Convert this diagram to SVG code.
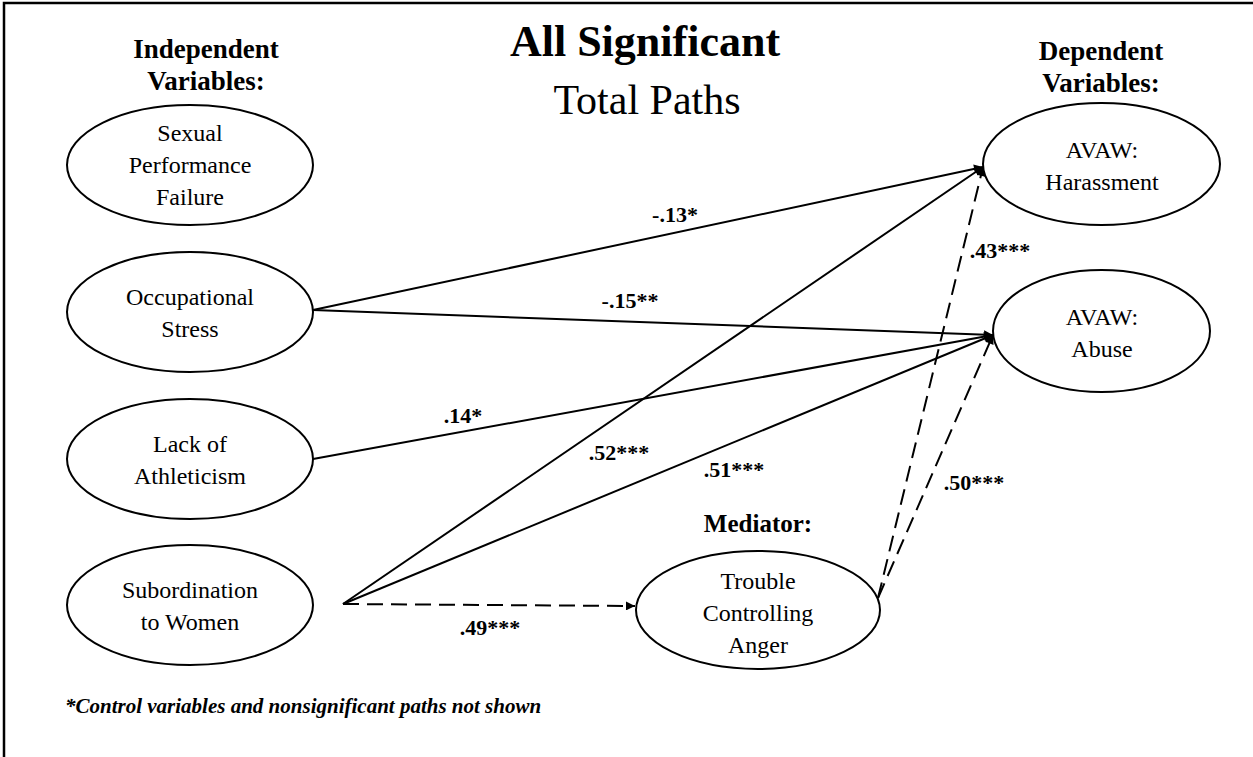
<svg xmlns="http://www.w3.org/2000/svg" width="1253" height="757" viewBox="0 0 1253 757">
<style>
.node ellipse{fill:#fff;stroke:#000;stroke-width:2}
.nt{font-family:"Liberation Serif","Times New Roman",serif;font-size:24px;text-anchor:middle;fill:#000}
.hd{font-family:"Liberation Serif","Times New Roman",serif;font-size:27px;font-weight:bold;text-anchor:middle;fill:#000}
.lb{font-family:"Liberation Serif","Times New Roman",serif;font-size:22px;font-weight:bold;text-anchor:middle;fill:#000}
.c{stroke:#000;stroke-width:2;fill:none;marker-end:url(#ah)}
.d{stroke-dasharray:16 8}
</style>
<defs>
<marker id="ah" viewBox="0 0 10 10" refX="10" refY="5" markerWidth="12" markerHeight="9" markerUnits="userSpaceOnUse" orient="auto">
<path d="M0,0 L10,5 L0,10 z" fill="#000"/>
</marker>
</defs>
<rect width="1253" height="757" fill="#fff"/>
<path d="M4,757 V3 H1253" fill="none" stroke="#000" stroke-width="2.5"/>

<g id="titles">
<text class="hd" x="206" y="58">Independent</text>
<text class="hd" x="206" y="90">Variables:</text>
<text x="645" y="56" font-family="Liberation Serif,serif" font-size="44" font-weight="bold" text-anchor="middle">All Significant</text>
<text x="647" y="114" font-family="Liberation Serif,serif" font-size="42" text-anchor="middle">Total Paths</text>
<text class="hd" x="1101" y="60">Dependent</text>
<text class="hd" x="1101" y="92">Variables:</text>
<text class="hd" x="758" y="532" style="font-size:25px">Mediator:</text>
<text x="65" y="713" font-family="Liberation Serif,serif" font-size="21" font-weight="bold" font-style="italic">*Control variables and nonsignificant paths not shown</text>
</g>

<g id="connectors">
<line class="c" x1="313" y1="310" x2="983" y2="167"/>
<line class="c" x1="313" y1="310" x2="993" y2="335"/>
<line class="c" x1="313" y1="459" x2="993" y2="335"/>
<line class="c" x1="343" y1="604" x2="983" y2="167"/>
<line class="c" x1="343" y1="604" x2="993" y2="335"/>
<line class="c d" x1="343" y1="604" x2="635" y2="606"/>
<line class="c d" x1="878" y1="598" x2="983" y2="167"/>
<line class="c d" x1="878" y1="598" x2="993" y2="335"/>
<text class="lb" x="675" y="222">-.13*</text>
<text class="lb" x="630" y="308">-.15**</text>
<text class="lb" x="463" y="423">.14*</text>
<text class="lb" x="619" y="460">.52***</text>
<text class="lb" x="734" y="477">.51***</text>
<text class="lb" x="490" y="635">.49***</text>
<text class="lb" x="1000" y="258">.43***</text>
<text class="lb" x="974" y="490">.50***</text>
</g>

<g id="n-sexual" class="node">
<ellipse cx="190" cy="165" rx="123" ry="60"/>
<text class="nt" x="190" y="141">Sexual</text>
<text class="nt" x="190" y="173">Performance</text>
<text class="nt" x="190" y="205">Failure</text>
</g>
<g id="n-occupational" class="node">
<ellipse cx="190" cy="312" rx="123" ry="60"/>
<text class="nt" x="190" y="305">Occupational</text>
<text class="nt" x="190" y="337">Stress</text>
</g>
<g id="n-athleticism" class="node">
<ellipse cx="190" cy="459" rx="123" ry="60"/>
<text class="nt" x="190" y="452">Lack of</text>
<text class="nt" x="190" y="484">Athleticism</text>
</g>
<g id="n-subordination" class="node">
<ellipse cx="190" cy="605" rx="123" ry="60"/>
<text class="nt" x="190" y="598">Subordination</text>
<text class="nt" x="190" y="630">to Women</text>
</g>
<g id="n-harassment" class="node">
<ellipse cx="1101.5" cy="164" rx="118.5" ry="61"/>
<text class="nt" x="1102" y="158">AVAW:</text>
<text class="nt" x="1102" y="190">Harassment</text>
</g>
<g id="n-abuse" class="node">
<ellipse cx="1101.5" cy="331" rx="108.5" ry="61"/>
<text class="nt" x="1102" y="325">AVAW:</text>
<text class="nt" x="1102" y="357">Abuse</text>
</g>
<g id="n-anger" class="node">
<ellipse cx="758" cy="610" rx="122" ry="59"/>
<text class="nt" x="758" y="589">Trouble</text>
<text class="nt" x="758" y="621">Controlling</text>
<text class="nt" x="758" y="653">Anger</text>
</g>
</svg>
